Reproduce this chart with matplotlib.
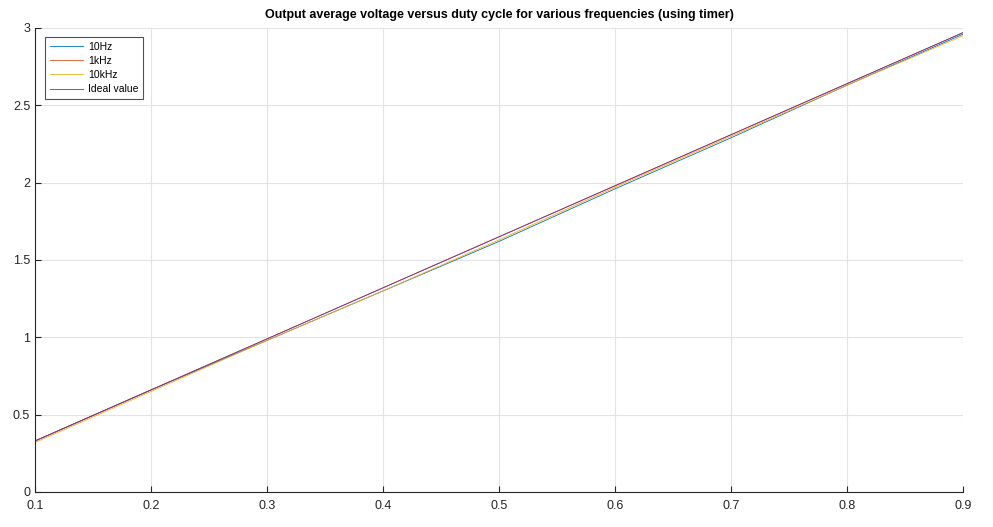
import matplotlib
matplotlib.use("Agg")
import matplotlib.pyplot as plt

duty = [0.1, 0.2, 0.3, 0.4, 0.5, 0.6, 0.7, 0.8, 0.9]
v_10hz = [0.33, 0.66, 0.98, 1.30, 1.62, 1.96, 2.29, 2.63, 2.96]
v_1khz = [0.33, 0.66, 0.99, 1.32, 1.65, 1.98, 2.31, 2.64, 2.97]
v_10khz = [0.32, 0.65, 0.98, 1.30, 1.63, 1.97, 2.30, 2.63, 2.95]
v_ideal = [0.33, 0.66, 0.99, 1.32, 1.65, 1.98, 2.31, 2.64, 2.97]

labels = ["10Hz", "1kHz", "10kHz", "Ideal value"]
colors = ["#0072BD", "#D95319", "#EDB120", "#7E2F8E"]

plt.rcParams['font.family'] = ['Liberation Sans', 'DejaVu Sans']

fig = plt.figure(figsize=(9.93, 5.27), dpi=100)
ax = fig.add_axes([35 / 993, 1 - 492 / 527, 928 / 993, 464 / 527])

for ys, lab, col in zip([v_10hz, v_1khz, v_10khz, v_ideal], labels, colors):
    ax.plot(duty, ys, color=col, linewidth=0.6, label=lab)

ax.set_xlim(0.1, 0.9)
ax.set_ylim(0, 3)
ax.set_xticks([0.1, 0.2, 0.3, 0.4, 0.5, 0.6, 0.7, 0.8, 0.9])
ax.set_yticks([0, 0.5, 1, 1.5, 2, 2.5, 3])
ax.set_yticklabels(["0", "0.5", "1", "1.5", "2", "2.5", "3"])
ax.grid(True, color="#e3e3e3", linewidth=0.8)
ax.set_axisbelow(True)

for side in ["top", "right"]:
    ax.spines[side].set_visible(False)
for side in ["left", "bottom"]:
    ax.spines[side].set_color("#262626")
    ax.spines[side].set_linewidth(0.8)

ax.tick_params(direction="in", length=4, width=0.8, colors="#262626",
               labelsize=9, labelcolor="#262626")
ax.tick_params(axis="x", pad=6)

ax.set_title("Output average voltage versus duty cycle for various frequencies (using timer)",
             fontsize=9, fontweight="bold", pad=7)

# legend box sits just inside the top-left corner
leg = ax.legend(loc="upper left", fontsize=7.5, frameon=True, fancybox=False,
                edgecolor="#262626", handlelength=3.2, handletextpad=0.45,
                borderpad=0.45, labelspacing=0.4, borderaxespad=0,
                bbox_to_anchor=(10 / 928, 1 - 9 / 464))
leg.get_frame().set_linewidth(0.8)

fig.savefig("out.png", dpi=100)
